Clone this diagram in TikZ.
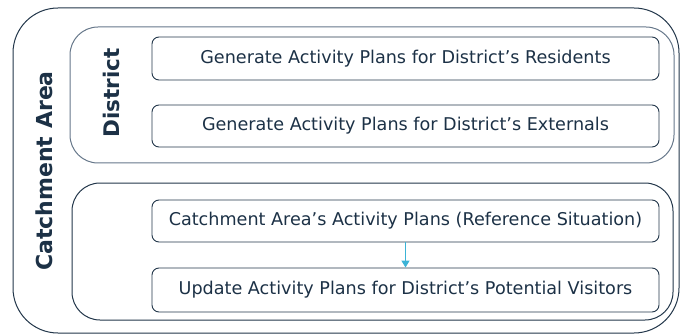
\documentclass[tikz,border=0pt]{standalone}
\usepackage{fontspec}
\setmainfont{DejaVu Sans}
\usepackage{tikz}
\usetikzlibrary{arrows.meta}
\usepackage{color}
\definecolor{navytext}{HTML}{1C3146}
\definecolor{boxline}{HTML}{22364A}
\definecolor{districtline}{HTML}{66778A}
\definecolor{flowcyan}{HTML}{3BB3D6}

\begin{document}
\begin{tikzpicture}[x=1pt,y=-1pt,
    container/.style={draw=boxline, line width=1pt, inner sep=0pt},
    planbox/.style={draw=boxline, line width=0.9pt, rounded corners=7pt, inner sep=0pt,
        minimum width=507pt, text=navytext, font=\fontsize{17.6}{20}\selectfont},
    sidelabel/.style={rotate=90, text=navytext, font=\fontsize{22}{26}\selectfont\bfseries}]
        \useasboundingbox (0,0) rectangle (680,334);
        % containers
        \node[container, rounded corners=45pt, minimum width=666pt, minimum height=325pt] (catchment) at (346,170.5) {};
        \node[container, draw=districtline, rounded corners=28pt, minimum width=604pt, minimum height=136pt] (district) at (372,95) {};
        \node[container, rounded corners=28pt, minimum width=601pt, minimum height=137pt] (reference) at (372.5,251.5) {};
        % labels
        \node[sidelabel] (catchmentlabel) at (44,171) {Catchment Area};
        \node[sidelabel, font=\fontsize{21.5}{26}\selectfont\bfseries] (districtlabel) at (111,93) {District};
        % plans
        \node[planbox, minimum height=43pt] (residents) at (405.5,58.5) {Generate Activity Plans for District’s Residents};
        \node[planbox, minimum height=42pt] (externals) at (405.5,126) {Generate Activity Plans for District’s Externals};
        \node[planbox, minimum height=42pt] (refplans) at (405.5,221) {Catchment Area’s Activity Plans (Reference Situation)};
        \node[planbox, minimum height=44pt] (visitors) at (405.5,290) {Update Activity Plans for District’s Potential Visitors};
        \draw[flowcyan, line width=1.4pt, -{Triangle[width=8pt,length=7pt]}] (refplans) -- (visitors);
    \end{tikzpicture}
\end{document}
